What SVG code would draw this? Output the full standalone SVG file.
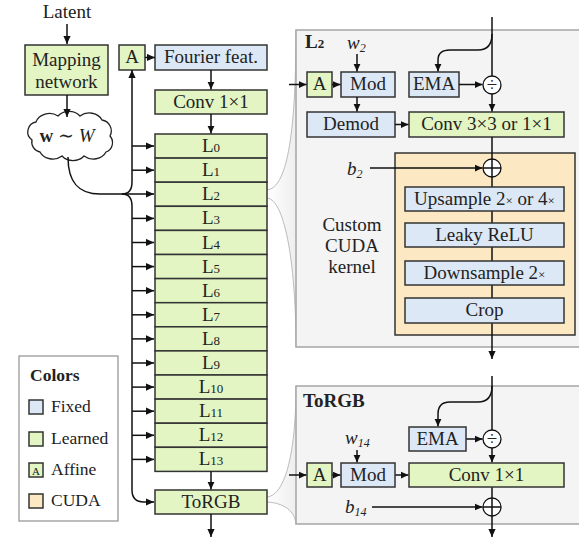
<svg xmlns="http://www.w3.org/2000/svg" width="579" height="540" viewBox="0 0 579 540" font-family="'Liberation Serif', 'DejaVu Serif', serif">
<defs>
<marker id="ah" viewBox="0 0 10 10" refX="10" refY="5" markerWidth="8" markerHeight="8" markerUnits="userSpaceOnUse" orient="auto"><path d="M0,0.5 L10,5 L0,9.5 z" fill="#111"/></marker>
<linearGradient id="zg" x1="0" y1="0" x2="1" y2="0"><stop offset="0" stop-color="#ffffff"/><stop offset="1" stop-color="#eeeeee"/></linearGradient>
</defs>
<style>
text { font-family: 'Liberation Serif', 'DejaVu Serif', serif; fill: #222; }
.t { font-size: 19px; text-anchor: middle; }
.lg { font-size: 17.5px; }
.bold { font-weight: bold; }
.it { font-style: italic; }
.g { fill: #e2f5c3; stroke: #333; stroke-width: 1.5; }
.b { fill: #dce8f5; stroke: #333; stroke-width: 1.5; }
.o { fill: #fce8c3; stroke: #333; stroke-width: 1.5; }
.ln { fill: none; stroke: #111; stroke-width: 1.5; }
.arr { marker-end: url(#ah); }
.panel { fill: #f4f4f4; stroke: #a5a5a5; stroke-width: 1.5; }
.zoom { fill: url(#zg); stroke: none; }
.zc { fill: none; stroke: #bbbbbb; stroke-width: 1; }
.op { fill: #fff; stroke: #111; stroke-width: 1.3; }
</style>

<!-- zoom shapes -->
<g id="zoom-L2">
<path class="zoom" d="M267,190 C286,188 296,140 296,30 L296,347 C296,270 286,200 267,198 Z"/>
<path class="zc" d="M267,190 C286,188 296,140 296,30"/>
<path class="zc" d="M267,198 C286,200 296,270 296,347"/>
</g>
<g id="zoom-ToRGB">
<path class="zoom" d="M267,497 C286,495 296,450 296,386 L296,524 C295,512 285,503 267,502 Z"/>
<path class="zc" d="M267,497 C286,495 296,450 296,386"/>
<path class="zc" d="M267,502 C285,503 295,512 296,524"/>
</g>

<!-- panels -->
<g id="panel-L2">
<rect class="panel" x="296" y="30" width="300" height="317"/>
<text x="305" y="48" class="bold" font-size="19">L<tspan font-size="13">2</tspan></text>
</g>
<g id="panel-ToRGB">
<rect class="panel" x="296" y="386" width="300" height="138"/>
<text x="303" y="407" class="bold" font-size="19">ToRGB</text>
</g>

<!-- left column nodes -->
<g id="latent"><text x="67" y="18" class="t">Latent</text></g>
<g id="mapping">
<rect class="g" x="25" y="45" width="83" height="50"/>
<text x="66.5" y="66" class="t">Mapping</text>
<text x="66.5" y="88" class="t">network</text>
</g>
<g id="cloud">
<path d="M32,140 A10,10 0 0 1 36,122 A14,12 0 0 1 58,116 A14,12 0 0 1 80,116 A14,12 0 0 1 102,120 A11,11 0 0 1 110,136 A10,10 0 0 1 106,152 A14,12 0 0 1 84,156 A14,12 0 0 1 62,156 A14,12 0 0 1 40,152 A10,10 0 0 1 32,140 Z" fill="#fff" stroke="#222" stroke-width="1.3"/>
<text x="67" y="142" class="t"><tspan class="bold">w</tspan> ∼ <tspan class="it">W</tspan></text>
</g>
<g id="affine-main">
<rect class="g" x="119" y="45" width="26" height="25"/>
<text x="132" y="63" class="t">A</text>
</g>
<g id="fourier">
<rect class="b" x="155" y="45" width="112" height="25"/>
<text x="211" y="63" class="t">Fourier feat.</text>
</g>
<g id="conv-main">
<rect class="g" x="155" y="90" width="112" height="24"/>
<text x="211" y="108" class="t">Conv 1×1</text>
</g>
<g id="L0"><rect class="g" x="155" y="134" width="112" height="24.1"/><text x="211" y="152" class="t">L<tspan font-size="13">0</tspan></text></g>
<g id="L1"><rect class="g" x="155" y="158.1" width="112" height="24.1"/><text x="211" y="176.2" class="t">L<tspan font-size="13">1</tspan></text></g>
<g id="L2"><rect class="g" x="155" y="182.2" width="112" height="24.1"/><text x="211" y="200.3" class="t">L<tspan font-size="13">2</tspan></text></g>
<g id="L3"><rect class="g" x="155" y="206.3" width="112" height="24.1"/><text x="211" y="224.4" class="t">L<tspan font-size="13">3</tspan></text></g>
<g id="L4"><rect class="g" x="155" y="230.4" width="112" height="24.1"/><text x="211" y="248.5" class="t">L<tspan font-size="13">4</tspan></text></g>
<g id="L5"><rect class="g" x="155" y="254.5" width="112" height="24.1"/><text x="211" y="272.6" class="t">L<tspan font-size="13">5</tspan></text></g>
<g id="L6"><rect class="g" x="155" y="278.6" width="112" height="24.1"/><text x="211" y="296.7" class="t">L<tspan font-size="13">6</tspan></text></g>
<g id="L7"><rect class="g" x="155" y="302.7" width="112" height="24.1"/><text x="211" y="320.8" class="t">L<tspan font-size="13">7</tspan></text></g>
<g id="L8"><rect class="g" x="155" y="326.8" width="112" height="24.1"/><text x="211" y="344.9" class="t">L<tspan font-size="13">8</tspan></text></g>
<g id="L9"><rect class="g" x="155" y="350.9" width="112" height="24.1"/><text x="211" y="369" class="t">L<tspan font-size="13">9</tspan></text></g>
<g id="L10"><rect class="g" x="155" y="375" width="112" height="24.1"/><text x="211" y="393.1" class="t">L<tspan font-size="13">10</tspan></text></g>
<g id="L11"><rect class="g" x="155" y="399.1" width="112" height="24.1"/><text x="211" y="417.2" class="t">L<tspan font-size="13">11</tspan></text></g>
<g id="L12"><rect class="g" x="155" y="423.2" width="112" height="24.1"/><text x="211" y="441.3" class="t">L<tspan font-size="13">12</tspan></text></g>
<g id="L13"><rect class="g" x="155" y="447.3" width="112" height="24.1"/><text x="211" y="465.4" class="t">L<tspan font-size="13">13</tspan></text></g>
<g id="torgb-main">
<rect class="g" x="155" y="490" width="112" height="24"/>
<text x="211" y="508" class="t">ToRGB</text>
</g>

<!-- L2 panel nodes -->
<g id="w2"><text x="347" y="49" class="it" font-size="19">w<tspan font-size="12" dy="3">2</tspan></text></g>
<g id="A-L2"><rect class="g" x="307" y="72" width="25" height="25"/><text x="319.5" y="90" class="t">A</text></g>
<g id="Mod-L2"><rect class="b" x="341" y="72" width="54" height="25"/><text x="368" y="90" class="t">Mod</text></g>
<g id="EMA-L2"><rect class="b" x="409" y="72" width="50" height="25"/><text x="434" y="90" class="t">EMA</text></g>
<g id="div-L2"><circle class="op" cx="492" cy="85" r="9"/><text x="492" y="90.5" class="t" font-size="17">÷</text></g>
<g id="Demod"><rect class="b" x="307" y="112" width="88" height="25"/><text x="351" y="130" class="t">Demod</text></g>
<g id="Conv-L2"><rect class="g" x="409" y="112" width="155" height="25"/><text x="486.5" y="130" class="t">Conv 3×3 or 1×1</text></g>
<g id="cuda">
<rect class="o" x="395" y="153" width="180" height="182"/>
<text x="352" y="231" class="t">Custom</text>
<text x="352" y="252" class="t">CUDA</text>
<text x="352" y="273" class="t">kernel</text>
</g>
<g id="b2"><text x="347" y="175" class="it" font-size="19">b<tspan font-size="12" dy="3">2</tspan></text></g>

<!-- connectors -->
<g id="connectors">
<path class="ln arr" d="M67,24 L67,44"/>
<path class="ln arr" d="M67,95 L67,117"/>
<path class="ln arr" d="M68,157 C68,182 78,194 100,194 L154,194"/>
<path class="ln arr" d="M122,194 Q132,194 132,182 L132,70"/>
<path class="ln arr" d="M122,194 Q132,194 132,206 L132,490 Q132,502 144,502 L154,502"/>
<path class="ln arr" d="M132,146 L154,146"/>
<path class="ln arr" d="M132,170.2 L154,170.2"/>
<path class="ln arr" d="M132,218.4 L154,218.4"/>
<path class="ln arr" d="M132,242.5 L154,242.5"/>
<path class="ln arr" d="M132,266.6 L154,266.6"/>
<path class="ln arr" d="M132,290.7 L154,290.7"/>
<path class="ln arr" d="M132,314.8 L154,314.8"/>
<path class="ln arr" d="M132,338.9 L154,338.9"/>
<path class="ln arr" d="M132,363 L154,363"/>
<path class="ln arr" d="M132,387.1 L154,387.1"/>
<path class="ln arr" d="M132,411.2 L154,411.2"/>
<path class="ln arr" d="M132,435.3 L154,435.3"/>
<path class="ln arr" d="M132,459.4 L154,459.4"/>
<path class="ln arr" d="M145,57.5 L155,57.5"/>
<path class="ln arr" d="M211,70 L211,89.5"/>
<path class="ln arr" d="M211,114 L211,133.5"/>
<path class="ln arr" d="M211,471.4 L211,489.5"/>
<path class="ln arr" d="M211,514 L211,537"/>

<!-- L2 panel -->
<path class="ln arr" d="M357,54 L357,71.5"/>
<path class="ln arr" d="M289,84.5 L306.5,84.5"/>
<path class="ln arr" d="M332,84.5 L340.5,84.5"/>
<path class="ln arr" d="M459,84.5 L482.5,84.5"/>
<path class="ln" d="M492,17 L492,76"/>
<path class="ln arr" d="M492,34 Q492,50 478,50 L450,50 Q438,50 438,60 L438,71.5"/>
<path class="ln arr" d="M492,94 L492,111.5"/>
<path class="ln arr" d="M357,97 L357,111.5"/>
<path class="ln arr" d="M395,124.5 L408.5,124.5"/>
<path class="ln" d="M492,137 L492,159"/>
<path class="ln arr" d="M370,168 L482.5,168"/>
<path class="ln" d="M492,177 L492,187"/>
<path class="ln" d="M492,211 L492,223"/>
<path class="ln" d="M492,247 L492,261"/>
<path class="ln" d="M492,285 L492,298"/>
<path class="ln arr" d="M492,323 L492,359"/>

<!-- ToRGB panel -->
<path class="ln" d="M492,376 L492,430"/>
<path class="ln arr" d="M492,386 Q492,402 478,402 L450,402 Q438,402 438,414 L438,426.5"/>
<path class="ln arr" d="M466,439 L482.5,439"/>
<path class="ln arr" d="M492,448 L492,462.5"/>
<path class="ln arr" d="M357,450 L357,462.5"/>
<path class="ln arr" d="M289,475 L306.5,475"/>
<path class="ln arr" d="M332,475 L340.5,475"/>
<path class="ln arr" d="M395,475 L408.5,475"/>
<path class="ln" d="M492,487 L492,498"/>
<path class="ln arr" d="M372,507 L482.5,507"/>
<path class="ln arr" d="M492,516 L492,537"/>
</g>

<!-- CUDA inner nodes -->
<g id="add-L2"><circle class="op" cx="492" cy="168" r="9"/><path class="ln" d="M483,168 L501,168 M492,159 L492,177" stroke-width="1.2"/></g>
<g id="upsample"><rect class="b" x="405" y="187" width="159" height="24"/><text x="484.5" y="205" class="t">Upsample 2<tspan font-size="13">×</tspan> or 4<tspan font-size="13">×</tspan></text></g>
<g id="leaky"><rect class="b" x="405" y="223" width="159" height="24"/><text x="484.5" y="241" class="t">Leaky ReLU</text></g>
<g id="downsample"><rect class="b" x="405" y="261" width="159" height="24"/><text x="484.5" y="279" class="t">Downsample 2<tspan font-size="13">×</tspan></text></g>
<g id="crop"><rect class="b" x="405" y="298" width="159" height="25"/><text x="484.5" y="316" class="t">Crop</text></g>

<!-- ToRGB panel nodes -->
<g id="EMA-ToRGB"><rect class="b" x="409" y="427" width="57" height="24"/><text x="437.5" y="445" class="t">EMA</text></g>
<g id="div-ToRGB"><circle class="op" cx="492" cy="439" r="9"/><text x="492" y="444.5" class="t" font-size="17">÷</text></g>
<g id="w14"><text x="345" y="444" class="it" font-size="19">w<tspan font-size="12" dy="3">14</tspan></text></g>
<g id="A-ToRGB"><rect class="g" x="307" y="463" width="25" height="24"/><text x="319.5" y="481" class="t">A</text></g>
<g id="Mod-ToRGB"><rect class="b" x="341" y="463" width="54" height="24"/><text x="368" y="481" class="t">Mod</text></g>
<g id="Conv-ToRGB"><rect class="g" x="409" y="463" width="155" height="24"/><text x="486.5" y="481" class="t">Conv 1×1</text></g>
<g id="add-ToRGB"><circle class="op" cx="492" cy="507" r="9"/><path class="ln" d="M483,507 L501,507 M492,498 L492,516" stroke-width="1.2"/></g>
<g id="b14"><text x="345" y="513" class="it" font-size="19">b<tspan font-size="12" dy="3">14</tspan></text></g>

<!-- legend -->
<g id="legend">
<rect x="19" y="356" width="99" height="165" fill="#fff" stroke="#999" stroke-width="1.3"/>
<text x="30" y="381" class="lg bold">Colors</text>
<rect class="b" x="29" y="400" width="14" height="14"/><text x="51" y="412" class="lg">Fixed</text>
<rect class="g" x="29" y="432" width="14" height="14"/><text x="51" y="444" class="lg">Learned</text>
<rect class="g" x="29" y="463" width="14" height="14"/><text x="36" y="474.5" font-size="11" text-anchor="middle">A</text><text x="51" y="475" class="lg">Affine</text>
<rect class="o" x="29" y="494" width="14" height="14"/><text x="51" y="506" class="lg">CUDA</text>
</g>
</svg>
